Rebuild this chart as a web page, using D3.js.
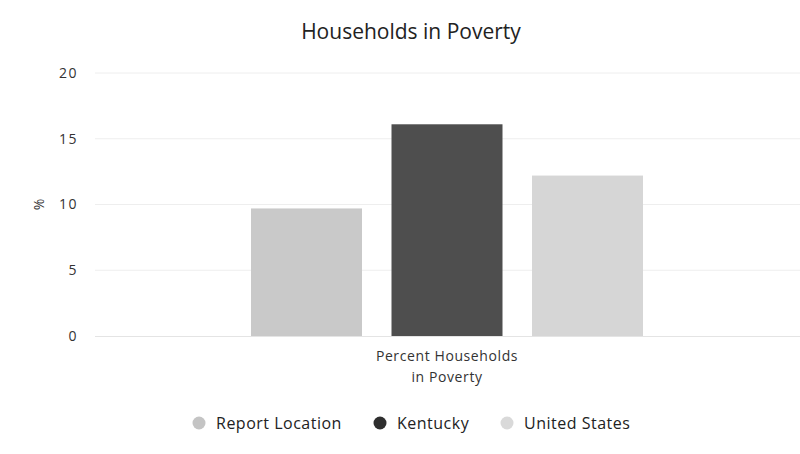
<!DOCTYPE html>
<html>
<head>
<meta charset="utf-8">
<script src="https://cdn.jsdelivr.net/npm/d3@7"></script>
<style>
  html, body { margin: 0; padding: 0; background: #fff; }
  svg { display: block; font-family: "Open Sans", "DejaVu Sans", sans-serif; }
</style>
</head>
<body>
<svg id="chart" width="800" height="454"></svg>
<script>
// Households in poverty, percent
const categories = ["Percent Households in Poverty"];
const seriesNames = ["Report Location", "Kentucky", "United States"];
const seriesValues = [9.7, 16.1, 12.2];
const seriesColors = ["#c9c9c9", "#4e4e4e", "#d6d6d6"];
const legendColors = ["#c4c4c4", "#2e2e2e", "#d9d9d9"];
const yTicks = [0, 5, 10, 15, 20];

const svg = d3.select("#chart");
const W = 800, H = 454;
const margin = { top: 73, right: 0, bottom: 118, left: 95 };
const innerW = W - margin.left - margin.right;
const innerH = H - margin.top - margin.bottom;

const g = svg.append("g").attr("transform", `translate(${margin.left},${margin.top})`);

const y = d3.scaleLinear().domain([0, 20]).range([innerH, 0]);
const x0 = d3.scaleBand().domain(categories).range([0, innerW]).paddingInner(0).paddingOuter(0);
const x1 = d3.scaleBand().domain(seriesNames).range([156, 548]).paddingInner(0.21).paddingOuter(0);

// Title
svg.append("text")
  .attr("x", 411).attr("y", 39)
  .attr("text-anchor", "middle")
  .attr("font-size", 21).attr("fill", "#222")
  .text("Households in Poverty");

// Gridlines
g.append("g")
  .selectAll("line")
  .data(yTicks.filter(t => t > 0))
  .join("line")
  .attr("x1", 0).attr("x2", innerW)
  .attr("y1", d => y(d)).attr("y2", d => y(d))
  .attr("stroke", "#eeeeee").attr("stroke-width", 1);

// Y axis labels
const yAxis = d3.axisLeft(y).tickValues(yTicks).tickSize(0).tickPadding(17);
const ya = g.append("g").call(yAxis);
ya.select(".domain").remove();
ya.selectAll("text")
  .attr("font-family", "\"Open Sans\", \"DejaVu Sans\", sans-serif")
  .attr("font-size", 14).attr("fill", "#333").attr("letter-spacing", "1.5px");

// Y axis title
svg.append("text")
  .attr("transform", `translate(38,${margin.top + y(10)}) rotate(-90)`)
  .attr("text-anchor", "middle").attr("dominant-baseline", "central")
  .attr("font-size", 14).attr("fill", "#333")
  .text("%");

// Bars
const cat = g.append("g").attr("transform", `translate(${x0(categories[0])},0)`);
cat.selectAll("rect")
  .data(seriesValues.map((v, i) => ({ name: seriesNames[i], value: v, color: seriesColors[i] })))
  .join("rect")
  .attr("x", d => x1(d.name))
  .attr("width", x1.bandwidth())
  .attr("y", d => y(d.value))
  .attr("height", d => innerH - y(d.value))
  .attr("fill", d => d.color);

// X axis baseline
g.append("line")
  .attr("x1", 0).attr("x2", innerW)
  .attr("y1", innerH + 0.5).attr("y2", innerH + 0.5)
  .attr("stroke", "#e4e4e4");

// X axis category label (wrapped)
const xl = svg.append("text")
  .attr("x", margin.left + x0(categories[0]) + x0.bandwidth() / 2 - 0.5)
  .attr("y", 361)
  .attr("text-anchor", "middle")
  .attr("font-size", 14).attr("fill", "#333").attr("letter-spacing", "0.6px");
xl.append("tspan").attr("x", xl.attr("x")).attr("dy", 0).text("Percent Households");
xl.append("tspan").attr("x", xl.attr("x")).attr("dy", 21).text("in Poverty");

// Legend
const legendX = [199, 380, 507];
const legend = svg.append("g");
seriesNames.forEach((name, i) => {
  legend.append("circle")
    .attr("cx", legendX[i]).attr("cy", 423).attr("r", 6.5)
    .attr("fill", legendColors[i]);
  legend.append("text")
    .attr("x", legendX[i] + 17).attr("y", 423)
    .attr("dominant-baseline", "central")
    .attr("font-size", 16).attr("fill", "#222").attr("letter-spacing", "0.5px")
    .text(name);
});
</script>
</body>
</html>
